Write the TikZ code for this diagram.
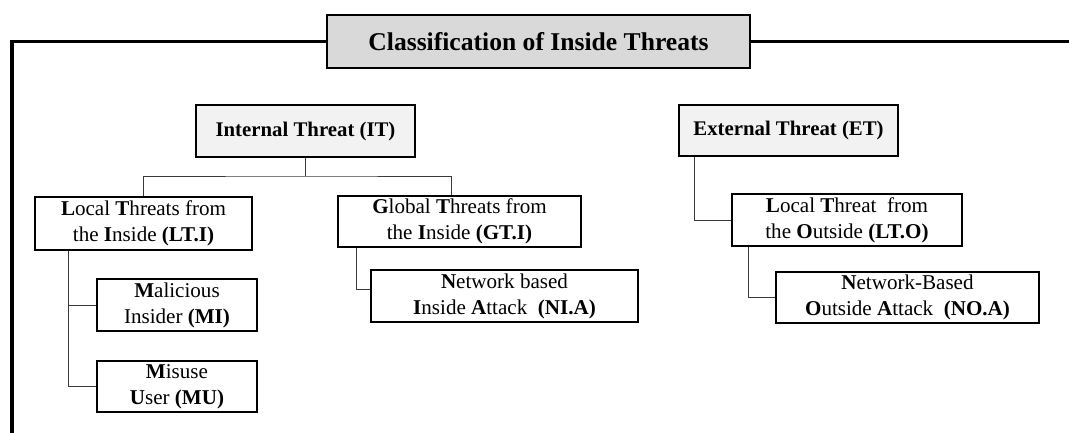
\documentclass[tikz,border=0pt]{standalone}
\usepackage{fontspec}
\setmainfont{Liberation Serif}
\usepackage{tikz}
\usetikzlibrary{positioning, calc}

\definecolor{titlegray}{HTML}{D9D9D9}
\definecolor{headgray}{HTML}{F2F2F2}
\definecolor{linkgray}{HTML}{3A3A3A}

\begin{document}
\begin{tikzpicture}[x=0.75pt, y=-0.75pt,
    framebox/.style={rectangle, draw, line width=2.2pt, fill=titlegray, inner sep=0pt,
        font=\fontsize{19.2}{22}\selectfont\bfseries},
    headbox/.style={rectangle, draw, line width=1.9pt, fill=headgray, inner sep=0pt,
        font=\fontsize{15.6}{18}\selectfont\bfseries},
    leafbox/.style={rectangle, draw, line width=0.9pt, fill=white, inner sep=0pt, align=center,
        font=\fontsize{15.8}{19.5}\selectfont},
    frameline/.style={line width=2.6pt},
    link/.style={draw=linkgray, line width=0.7pt}]

    \useasboundingbox (0,0) rectangle (1069,432);

    % --- Title box and outer frame ---
    \node[framebox, minimum width=423*0.75pt, minimum height=53*0.75pt] (TITLE) at (538.5,41.5)
        {Classification of Inside Threats};
    \coordinate (FBL) at (12,436);
    \coordinate (FR) at (1072,41.5);
    \draw[frameline] (TITLE.west) -| (FBL);
    \draw[frameline] (TITLE.east) -- (FR);

    % --- Internal / External heads ---
    \node[headbox, minimum width=219*0.75pt, minimum height=52*0.75pt] (IT) at (305.5,131)
        {Internal Threat (IT)};
    \node[headbox, minimum width=219*0.75pt, minimum height=51*0.75pt] (ET) at (788.5,130.5)
        {External Threat (ET)};

    % --- Second level ---
    \node[leafbox, minimum width=217*0.75pt, minimum height=53*0.75pt] (LTI) at (143.5,223.5)
        {\textbf{L}ocal \textbf{T}hreats from\\the \textbf{I}nside \textbf{(LT.I)}};
    \node[leafbox, minimum width=243*0.75pt, minimum height=51*0.75pt] (GTI) at (459.5,221.5)
        {\textbf{G}lobal \textbf{T}hreats from\\the \textbf{I}nside \textbf{(GT.I)}};
    \node[leafbox, minimum width=230*0.75pt, minimum height=52*0.75pt] (LTO) at (847,220)
        {\textbf{L}ocal \textbf{T}hreat\ \ from\\the \textbf{O}utside \textbf{(LT.O)}};

    % --- Third level ---
    \node[leafbox, minimum width=160*0.75pt, minimum height=52*0.75pt] (MI) at (177,305)
        {\textbf{M}alicious\\Insider \textbf{(MI)}};
    \node[leafbox, minimum width=160*0.75pt, minimum height=51*0.75pt] (MU) at (177,386.5)
        {\textbf{M}isuse\\\textbf{U}ser \textbf{(MU)}};
    \node[leafbox, minimum width=267*0.75pt, minimum height=52*0.75pt] (NIA) at (504.5,296)
        {\textbf{N}etwork based\\\textbf{I}nside \textbf{A}ttack\ \ \textbf{(NI.A)}};
    \node[leafbox, minimum width=263*0.75pt, minimum height=51*0.75pt] (NOA) at (907.5,297.5)
        {\textbf{N}etwork-Based\\\textbf{O}utside \textbf{A}ttack\ \ \textbf{(NO.A)}};

    % --- Connectors ---
    \coordinate (FORK) at (305.5,176);
    \draw[link] (IT.south) -- (FORK);
    \draw[link] (LTI.north) |- (FORK) -| ([xshift=-6.4pt]GTI.north);

    \draw[link] ([xshift=25.5pt]LTI.south west) |- (MI.west);
    \draw[link] ([xshift=25.5pt]LTI.south west) |- (MU.west);
    \draw[link] ([xshift=14.25pt]GTI.south west) |- ([yshift=5pt]NIA.west);

    \draw[link] ([xshift=12.75pt]ET.south west) |- (LTO.west);
    \draw[link] ([xshift=12.75pt]LTO.south west) |- (NOA.west);

\end{tikzpicture}
\end{document}
